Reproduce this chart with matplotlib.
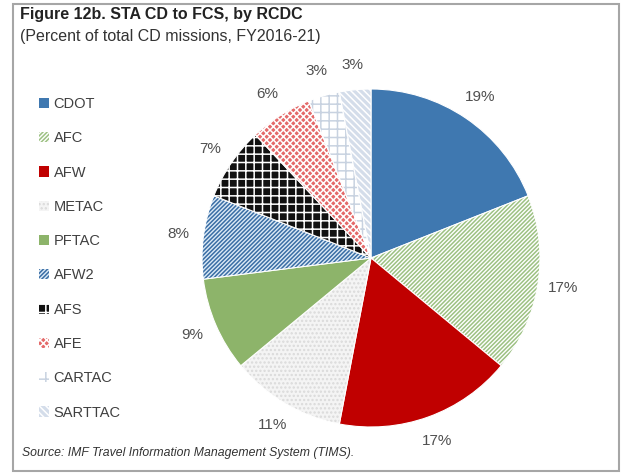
import matplotlib
matplotlib.use('Agg')
import matplotlib.pyplot as plt
import matplotlib.patches as mpatches
from matplotlib.colors import to_rgba

plt.rcParams['font.family'] = ['Liberation Sans', 'DejaVu Sans']
plt.rcParams['hatch.linewidth'] = 1.1

# Data
labels = ['CDOT', 'AFC', 'AFW', 'METAC', 'PFTAC', 'AFW2', 'AFS', 'AFE', 'CARTAC', 'SARTTAC']
shares = [19, 17, 17, 11, 9, 8, 7, 6, 3, 3]

# Styles per slice: face, hatch, hatch colour
faces = ['#3F78B0', '#FFFFFF', '#C00000', '#F4F4F4', '#8DB46A', '#DCEAF6',
         '#111111', '#E46A6A', '#FFFFFF', '#D4DDEA']
hatches = [None, '////////', None, '....', None, '////////', '++', 'xxxxx', '++', '\\\\\\\\\\']
hatch_cols = ['#3F78B0', '#9DC183', '#C00000', '#DADADA', '#8DB46A', '#3A6EA5',
              '#FFFFFF', '#FFFFFF', '#C8D2E0', '#FFFFFF']

fig = plt.figure(figsize=(6.21, 4.73), dpi=100)
fig.patch.set_facecolor('white')

# outer frame
frame = mpatches.Rectangle((13 / 621, 2 / 473), 606 / 621, 467 / 473, transform=fig.transFigure,
                           fill=False, edgecolor='#A6A6A6', linewidth=1.5)
fig.add_artist(frame)

fig.text(20 / 621, 1 - 15 / 473, 'Figure 12b. STA CD to FCS, by RCDC', fontsize=11.5,
         fontweight='bold', color='#222222', va='center')
fig.text(20 / 621, 1 - 37 / 473, '(Percent of total CD missions, FY2016-21)', fontsize=11.5,
         color='#333333', va='center')
fig.text(22 / 621, 1 - 453 / 473, 'Source: IMF Travel Information Management System (TIMS).',
         fontsize=8.8, style='italic', color='#333333', va='center')

# pie axes: center (371, 258), radius ~169 px
r = 169
ax = fig.add_axes([(371 - r) / 621, 1 - (258 + r) / 473, 2 * r / 621, 2 * r / 473])
wedges, texts, autotexts = ax.pie(
    shares, startangle=90, counterclock=False,
    autopct='%d%%', pctdistance=1.15,
    wedgeprops=dict(edgecolor='white', linewidth=0.8),
    textprops=dict(fontsize=11, color='#505050'))
ax.set_xlim(-1, 1)
ax.set_ylim(-1, 1)

for w, fc, h, hc in zip(wedges, faces, hatches, hatch_cols):
    w.set_facecolor(fc)
    if h:
        w.set_hatch(h)
        w._hatch_color = to_rgba(hc)

# Legend
handles = []
for lab, fc, h, hc in zip(labels, faces, hatches, hatch_cols):
    p = mpatches.Patch(facecolor=fc, hatch=h, edgecolor='none', label=lab)
    if h:
        p._hatch_color = to_rgba(hc)
    handles.append(p)
fig.legend(handles=handles, loc='upper left', bbox_to_anchor=(26 / 621, 1 - 84 / 473),
           frameon=False, fontsize=10.5, labelcolor='#404040', handlelength=0.7,
           handleheight=0.7, handletextpad=0.3, labelspacing=1.39)

fig.savefig('out.png', dpi=100, facecolor='white')
